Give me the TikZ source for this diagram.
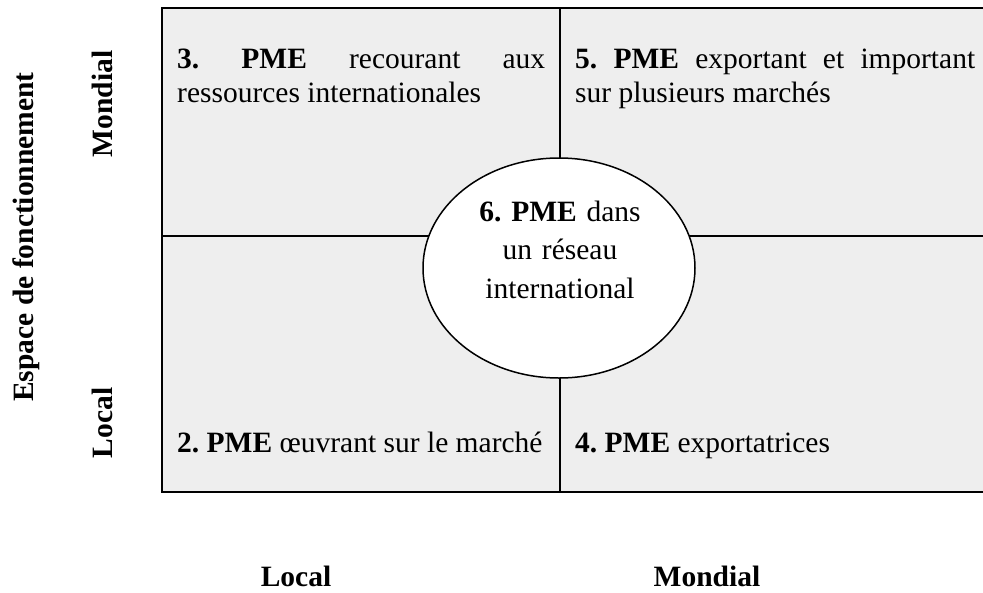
\documentclass[tikz,border=0pt]{standalone}
\usepackage{fontspec}
\setmainfont{Liberation Serif}
\usetikzlibrary{shapes.geometric}
\definecolor{cellgray}{HTML}{EEEEEE}
\frenchspacing
\begin{document}
\begin{tikzpicture}[x=1pt,y=-1pt,
  gridline/.style={line width=1.6pt,draw=black},
  celltext/.style={anchor=base west,inner sep=0pt,align=justify,
    font=\fontsize{29.5}{34.5}\selectfont\frenchspacing},
  axislabel/.style={inner sep=0pt,font=\fontsize{29.5}{34.5}\selectfont\bfseries},
]
\useasboundingbox (0,0) rectangle (983,592);
\clip (0,0) rectangle (983,592);

% quadrant grid
\fill[cellgray] (162,8) rectangle (995,492);
\draw[gridline] (560,8) -- (560,492);
\draw[gridline] (162,236) -- (995,236);
\draw[line width=2pt] (162,8) rectangle (995,492);

% central ellipse
\node[draw,fill=white,ellipse,line width=1.5pt,
  minimum width=272pt,minimum height=220pt,inner sep=0pt] (net) at (559,268) {};
\node[anchor=base,inner sep=0pt,text width=260pt,align=center,
  font=\fontsize{29.5}{38.5}\selectfont\frenchspacing] (nettext) at (560,221)
  {\textbf{6. PME} dans\\un réseau\\international};

% quadrant texts
\node[celltext,text width=368pt] (q3) at (177,68)
  {\textbf{3.} \textbf{PME} recourant aux\linebreak ressources internationales};
\node[celltext,text width=400pt] (q5) at (575,68)
  {\textbf{5.} \textbf{PME} exportant et important\linebreak sur plusieurs marchés};
\node[celltext] (q2) at (177,452) {\textbf{2. PME} œuvrant sur le marché};
\node[celltext] (q4) at (575,452) {\textbf{4. PME} exportatrices};

% axis labels
\node[axislabel,rotate=90,anchor=base] (yaxis) at (33,237) {Espace de fonctionnement};
\node[axislabel,rotate=90,anchor=base] (ymondial) at (112,104) {Mondial};
\node[axislabel,rotate=90,anchor=base] (ylocal) at (112,423) {Local};
\node[axislabel,anchor=base] (xlocal) at (296,586) {Local};
\node[axislabel,anchor=base] (xmondial) at (707,586) {Mondial};
\end{tikzpicture}
\end{document}
